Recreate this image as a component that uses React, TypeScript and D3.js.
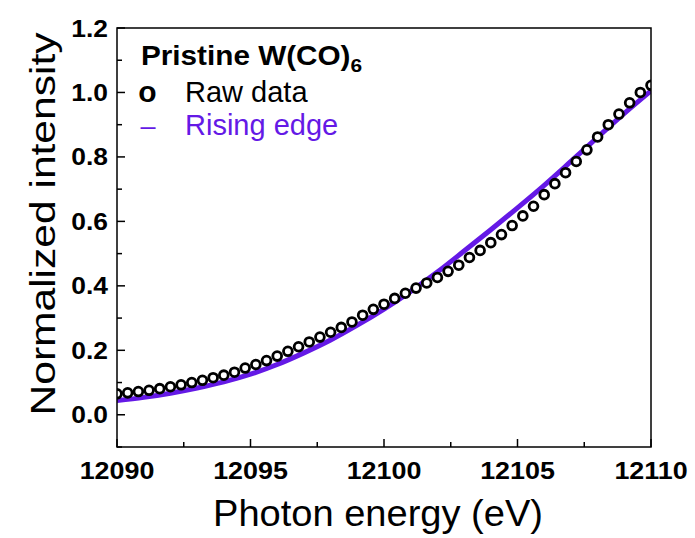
import React from "react";
import * as d3 from "d3";

const rawEnergy: number[] = d3.range(51).map((i) => 12090 + i * 0.4);
const rawValues: number[] = [
  0.065, 0.068, 0.072, 0.076, 0.081, 0.087, 0.093, 0.1, 0.107, 0.115,
  0.123, 0.132, 0.145, 0.156, 0.168, 0.182, 0.197, 0.211, 0.226, 0.241,
  0.256, 0.271, 0.288, 0.309, 0.327, 0.343, 0.361, 0.377, 0.393, 0.409,
  0.426, 0.445, 0.464, 0.488, 0.51, 0.534, 0.559, 0.587, 0.617, 0.647,
  0.683, 0.717, 0.751, 0.786, 0.822, 0.862, 0.9, 0.933, 0.968, 1.0, 1.022,
];
const edgeEnergy: number[] = d3.range(21).map((i) => 12090 + i);
const edgeValues: number[] = [
  0.044, 0.054, 0.067, 0.083, 0.102, 0.126, 0.156, 0.192, 0.232, 0.278,
  0.328, 0.383, 0.443, 0.508, 0.574, 0.642, 0.712, 0.786, 0.861, 0.935, 1.005,
];
const xTicks: number[] = [12090, 12095, 12100, 12105, 12110];
const xMinor: number[] = [12092.5, 12097.5, 12102.5, 12107.5];
const yTicks: number[] = [0, 0.2, 0.4, 0.6, 0.8, 1.0, 1.2];
const yMinor: number[] = [-0.1, 0.1, 0.3, 0.5, 0.7, 0.9, 1.1];

const W = 695;
const H = 538;
const L = 117;
const R = 651;
const T = 28;
const B = 447;
const PURPLE = "#6419E6";
const FONT = "'Liberation Sans', Arial, Helvetica, sans-serif";

export default function App() {
  const x = d3.scaleLinear().domain([12090, 12110]).range([L, R]);
  const y = d3.scaleLinear().domain([-0.1, 1.2]).range([B, T]);

  const line = d3
    .line<number>()
    .x((_, i) => x(edgeEnergy[i]))
    .y((d) => y(d))
    .curve(d3.curveMonotoneX);

  return (
    <svg
      width={W}
      height={H}
      style={{ position: "absolute", left: 0, top: 0, background: "#fff" }}
      fontFamily={FONT}
    >
      <defs>
        <clipPath id="plotclip">
          <rect x={L} y={T} width={R - L} height={B - T} />
        </clipPath>
      </defs>
      <rect x={0} y={0} width={W} height={H} fill="#fff" />

      <g clipPath="url(#plotclip)">
        <path d={line(edgeValues) || ""} fill="none" stroke={PURPLE} strokeWidth={5} />
        {rawValues.map((v, i) => (
          <circle
            key={i}
            cx={x(rawEnergy[i])}
            cy={y(v)}
            r={4.4}
            fill="#fff"
            stroke="#000"
            strokeWidth={2.8}
          />
        ))}
      </g>

      {/* frame */}
      <rect x={L} y={T} width={R - L} height={B - T} fill="none" stroke="#000" strokeWidth={1.5} />

      {/* x ticks */}
      {xTicks.map((t) => (
        <line key={"xt" + t} x1={x(t)} x2={x(t)} y1={B} y2={B - 8} stroke="#000" strokeWidth={1.5} />
      ))}
      {xMinor.map((t) => (
        <line key={"xm" + t} x1={x(t)} x2={x(t)} y1={B} y2={B - 5} stroke="#000" strokeWidth={1.5} />
      ))}
      {xTicks.map((t) => (
        <text
          key={"xl" + t}
          transform={`translate(${x(t)},478.5) scale(1.12,1)`}
          textAnchor="middle"
          fontSize={24}
          fontWeight="bold"
        >
          {d3.format("d")(t)}
        </text>
      ))}

      {/* y ticks */}
      {yTicks.map((t) => (
        <line key={"yt" + t} x1={L} x2={L + 8} y1={y(t)} y2={y(t)} stroke="#000" strokeWidth={1.5} />
      ))}
      {yMinor.map((t) => (
        <line key={"ym" + t} x1={L} x2={L + 5} y1={y(t)} y2={y(t)} stroke="#000" strokeWidth={1.5} />
      ))}
      {yTicks.map((t) => (
        <text
          key={"yl" + t}
          transform={`translate(108,${y(t) + 8.5}) scale(1.1,1)`}
          textAnchor="end"
          fontSize={24}
          fontWeight="bold"
        >
          {d3.format(".1f")(t)}
        </text>
      ))}

      {/* axis titles */}
      <text
        x={378}
        y={526}
        textAnchor="middle"
        fontSize={36}
        textLength={330}
        lengthAdjust="spacingAndGlyphs"
      >
        Photon energy (eV)
      </text>
      <text
        transform="translate(55,224) rotate(-90)"
        textAnchor="middle"
        fontSize={35}
        textLength={383}
        lengthAdjust="spacingAndGlyphs"
      >
        Normalized intensity
      </text>

      {/* legend */}
      <text transform="translate(141,65) scale(1.1,1)" fontSize={27} fontWeight="bold">
        Pristine W(CO)
        <tspan fontSize={19} dy={7}>6</tspan>
      </text>
      <text x={147.5} y={102} fontSize={30} fontWeight="bold" textAnchor="middle">
        o
      </text>
      <text x={185} y={101.5} fontSize={29}>
        Raw data
      </text>
      <text x={148} y={135} fontSize={27} fill={PURPLE} textAnchor="middle">
        –
      </text>
      <text x={185} y={135} fontSize={29} fill={PURPLE}>
        Rising edge
      </text>
    </svg>
  );
}
